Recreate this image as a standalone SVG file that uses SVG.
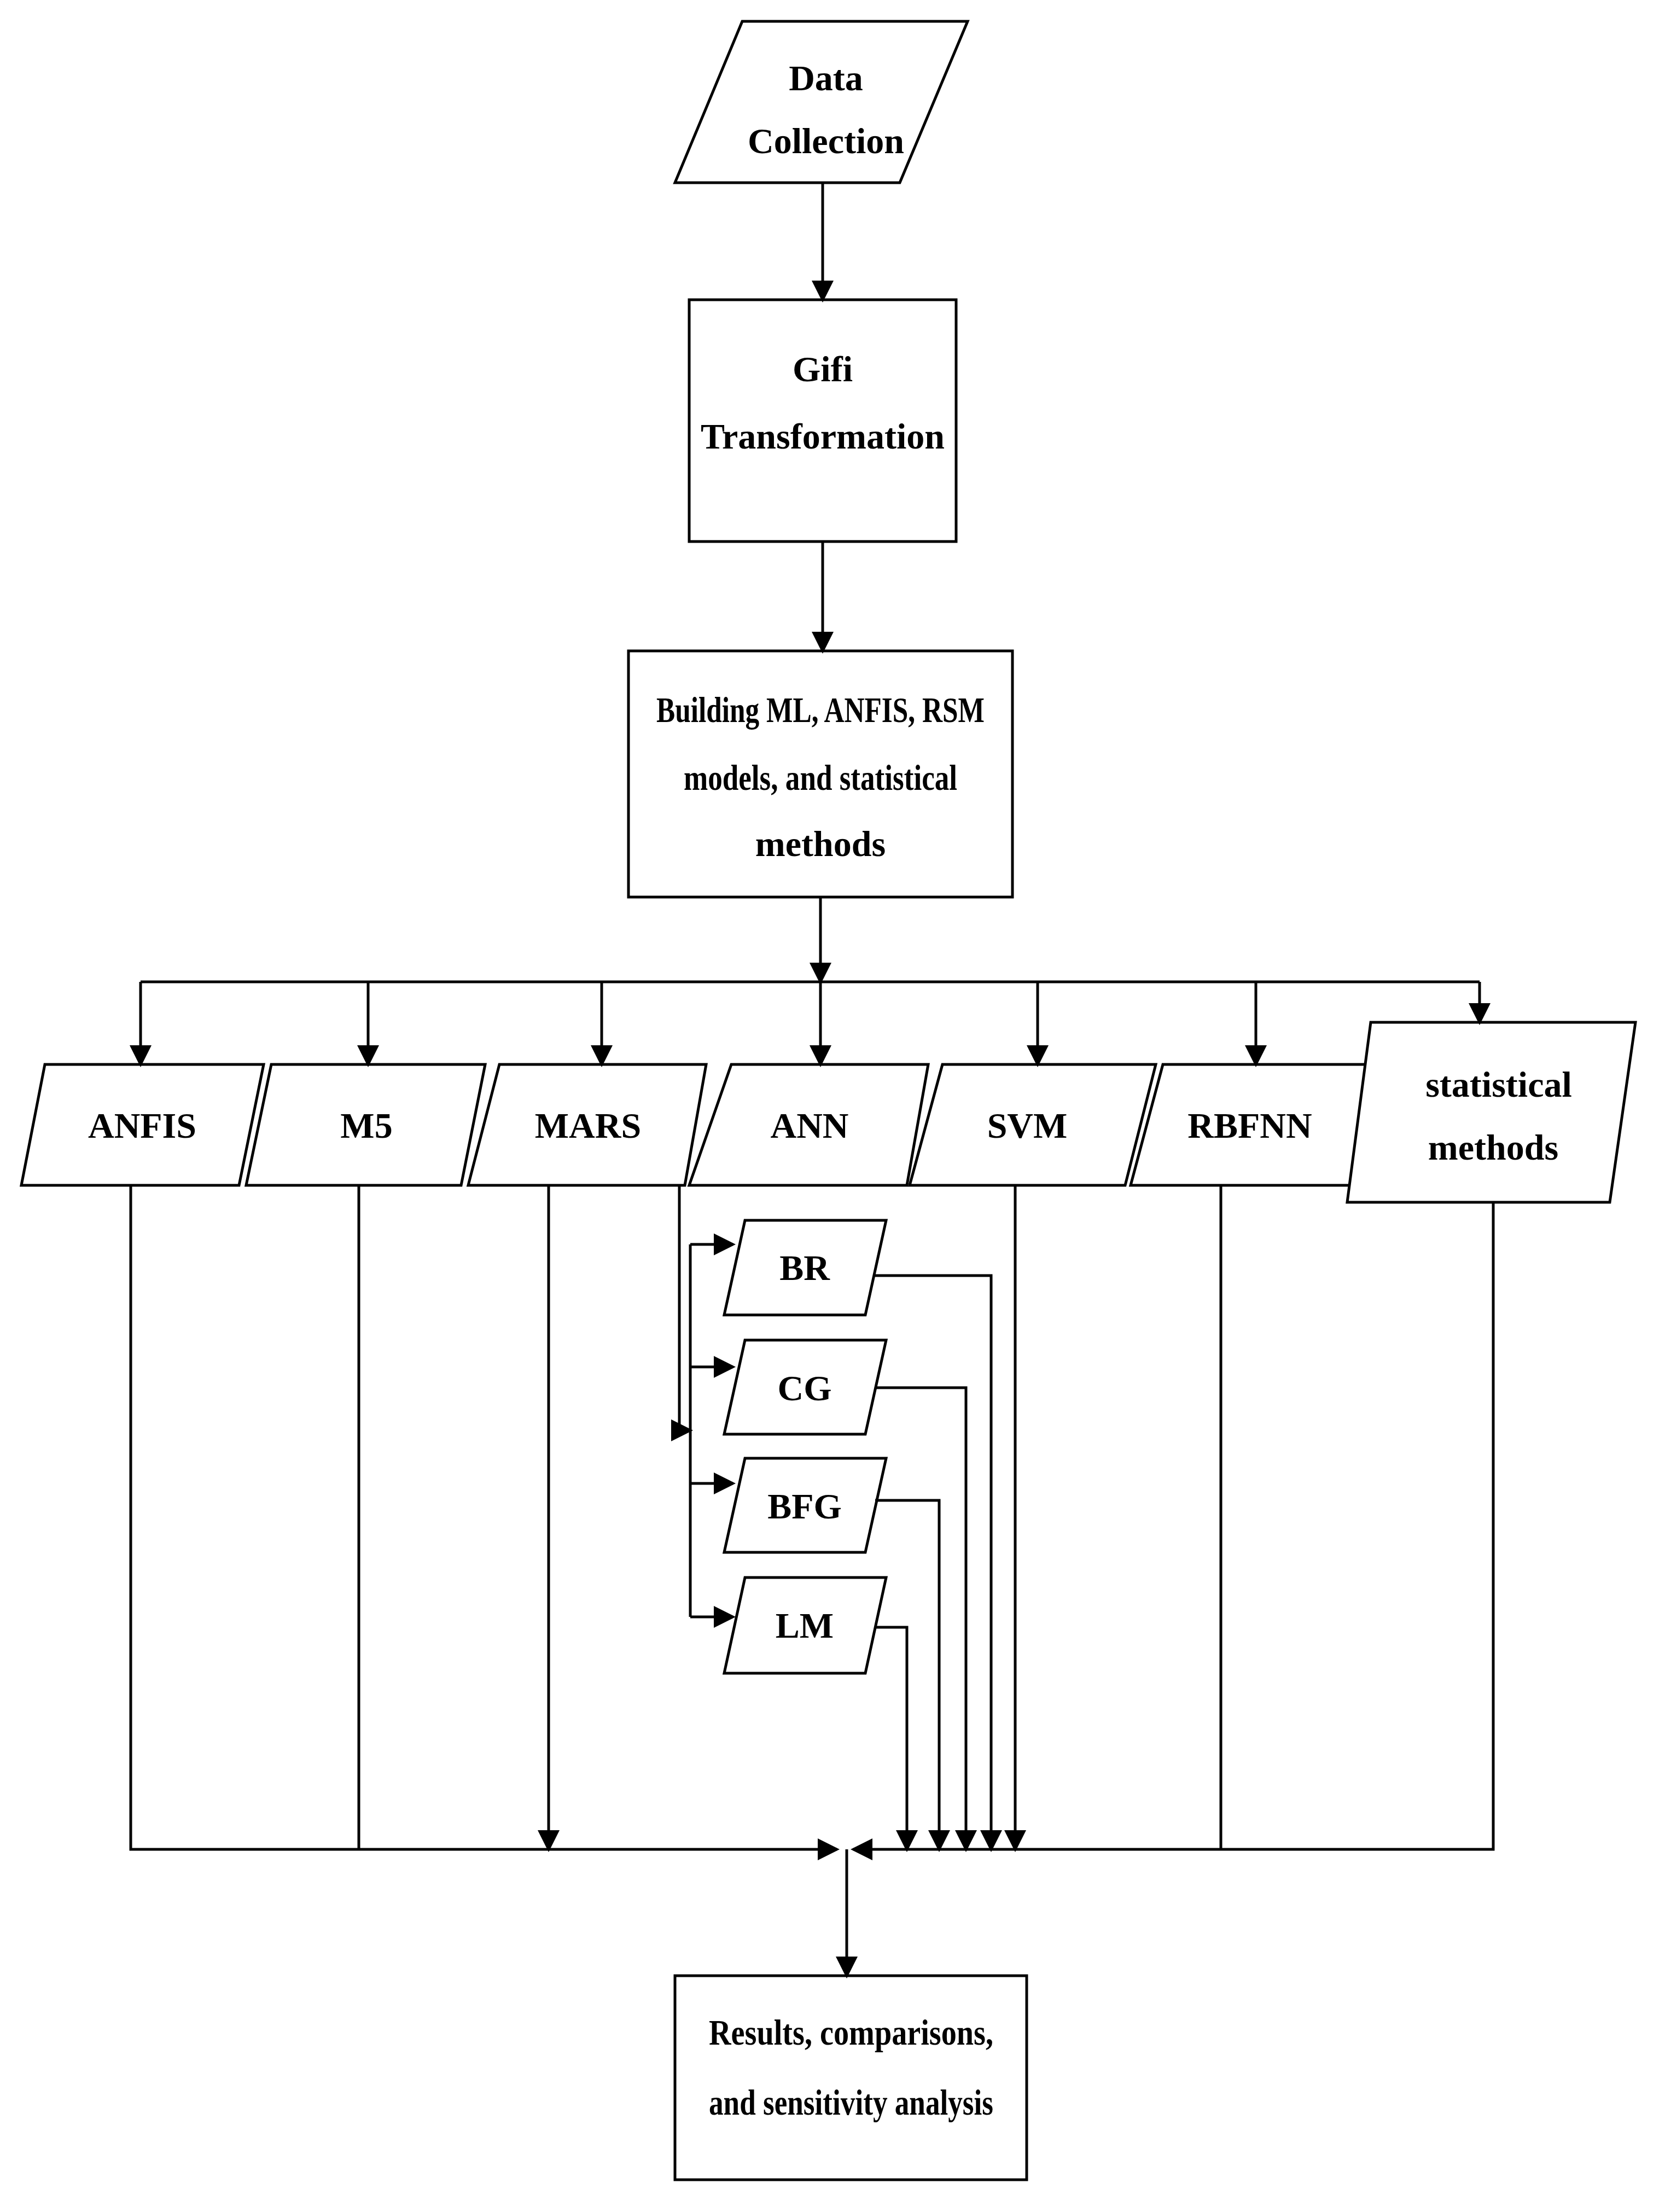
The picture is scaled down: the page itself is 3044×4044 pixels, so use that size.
<svg xmlns="http://www.w3.org/2000/svg" width="3044" height="4044" viewBox="0 0 3044 4044">
<style>
.s{fill:#fff;stroke:#000;stroke-width:5}
.t{font-family:"Liberation Serif",serif;font-weight:bold;font-size:66px;text-anchor:middle;fill:#000}
.c{fill:none;stroke:#000;stroke-width:5}
</style>
<defs><marker id="a" markerWidth="8" markerHeight="8" refX="7" refY="4" orient="auto" markerUnits="strokeWidth"><path d="M0,0 L8,4 L0,8 z" fill="#000"/></marker></defs>
<rect width="3044" height="4044" fill="#fff"/>
<g id="n-data"><polygon class="s" points="1357,39 1769,39 1645,334 1234,334"/><text class="t" x="1510" y="165">Data</text><text class="t" x="1510" y="280">Collection</text></g>
<g id="n-gifi"><rect class="s" x="1260" y="548" width="488" height="442"/><text class="t" x="1504" y="697">Gifi</text><text class="t" x="1504" y="820">Transformation</text></g>
<g id="n-build"><rect class="s" x="1149" y="1190" width="702" height="450"/><text class="t" x="1500" y="1320" textLength="600" lengthAdjust="spacingAndGlyphs">Building ML, ANFIS, RSM</text><text class="t" x="1500" y="1444" textLength="500" lengthAdjust="spacingAndGlyphs">models, and statistical</text><text class="t" x="1500" y="1565">methods</text></g>
<g id="n-anfis"><polygon class="s" points="82,1946 482,1946 437,2167 39,2167"/><text class="t" x="260" y="2080">ANFIS</text></g>
<g id="n-m5"><polygon class="s" points="496,1946 887,1946 843,2167 450,2167"/><text class="t" x="670" y="2080">M5</text></g>
<g id="n-mars"><polygon class="s" points="913,1946 1291,1946 1252,2167 856,2167"/><text class="t" x="1075" y="2080">MARS</text></g>
<g id="n-ann"><polygon class="s" points="1337,1946 1697,1946 1658,2167 1260,2167"/><text class="t" x="1480" y="2080">ANN</text></g>
<g id="n-svm"><polygon class="s" points="1723,1946 2113,1946 2057,2167 1663,2167"/><text class="t" x="1878" y="2080">SVM</text></g>
<g id="n-rbfnn"><polygon class="s" points="2126,1946 2520,1946 2468,2167 2067,2167"/><text class="t" x="2285" y="2080">RBFNN</text></g>
<g id="n-stat"><polygon class="s" points="2506,1869 2990,1869 2943,2198 2463,2198"/><text class="t" x="2740" y="2005">statistical</text><text class="t" x="2730" y="2120">methods</text></g>
<g id="n-br"><polygon class="s" points="1362,2231 1620,2231 1582,2404 1324,2404"/><text class="t" x="1471" y="2340">BR</text></g>
<g id="n-cg"><polygon class="s" points="1362,2450 1620,2450 1582,2622 1324,2622"/><text class="t" x="1471" y="2560">CG</text></g>
<g id="n-bfg"><polygon class="s" points="1362,2666 1620,2666 1582,2838 1324,2838"/><text class="t" x="1471" y="2776">BFG</text></g>
<g id="n-lm"><polygon class="s" points="1362,2884 1620,2884 1582,3059 1324,3059"/><text class="t" x="1471" y="2994">LM</text></g>
<g id="n-res"><rect class="s" x="1234" y="3612" width="643" height="373"/><text class="t" x="1556" y="3738" textLength="520" lengthAdjust="spacingAndGlyphs">Results, comparisons,</text><text class="t" x="1556" y="3866" textLength="520" lengthAdjust="spacingAndGlyphs">and sensitivity analysis</text></g>
<g id="connectors">
<path class="c" d="M1504,334 V548" marker-end="url(#a)"/>
<path class="c" d="M1504,990 V1190" marker-end="url(#a)"/>
<path class="c" d="M1500,1640 V1795" marker-end="url(#a)"/>
<path class="c" d="M257,1795 H2705"/>
<path class="c" d="M257,1795 V1946" marker-end="url(#a)"/>
<path class="c" d="M673,1795 V1946" marker-end="url(#a)"/>
<path class="c" d="M1100,1795 V1946" marker-end="url(#a)"/>
<path class="c" d="M1500,1795 V1946" marker-end="url(#a)"/>
<path class="c" d="M1897,1795 V1946" marker-end="url(#a)"/>
<path class="c" d="M2296,1795 V1946" marker-end="url(#a)"/>
<path class="c" d="M2705,1795 V1869" marker-end="url(#a)"/>
<path class="c" d="M239,2167 V3381 H1530" marker-end="url(#a)"/>
<path class="c" d="M656,2167 V3381"/>
<path class="c" d="M1003,2167 V3381" marker-end="url(#a)"/>
<path class="c" d="M2730,2198 V3381 H1560" marker-end="url(#a)"/>
<path class="c" d="M2232,2167 V3381"/>
<path class="c" d="M1856,2167 V3381" marker-end="url(#a)"/>
<path class="c" d="M1600,2332 H1812 V3381" marker-end="url(#a)"/>
<path class="c" d="M1600,2537 H1766 V3381" marker-end="url(#a)"/>
<path class="c" d="M1600,2743 H1717 V3381" marker-end="url(#a)"/>
<path class="c" d="M1600,2975 H1658 V3381" marker-end="url(#a)"/>
<path class="c" d="M1242,2167 V2615 H1262" marker-end="url(#a)"/>
<path class="c" d="M1262,2275 V2956"/>
<path class="c" d="M1262,2275 H1340" marker-end="url(#a)"/>
<path class="c" d="M1262,2499 H1340" marker-end="url(#a)"/>
<path class="c" d="M1262,2712 H1340" marker-end="url(#a)"/>
<path class="c" d="M1262,2956 H1340" marker-end="url(#a)"/>
<path class="c" d="M1548,3381 V3612" marker-end="url(#a)"/>
</g>
</svg>
